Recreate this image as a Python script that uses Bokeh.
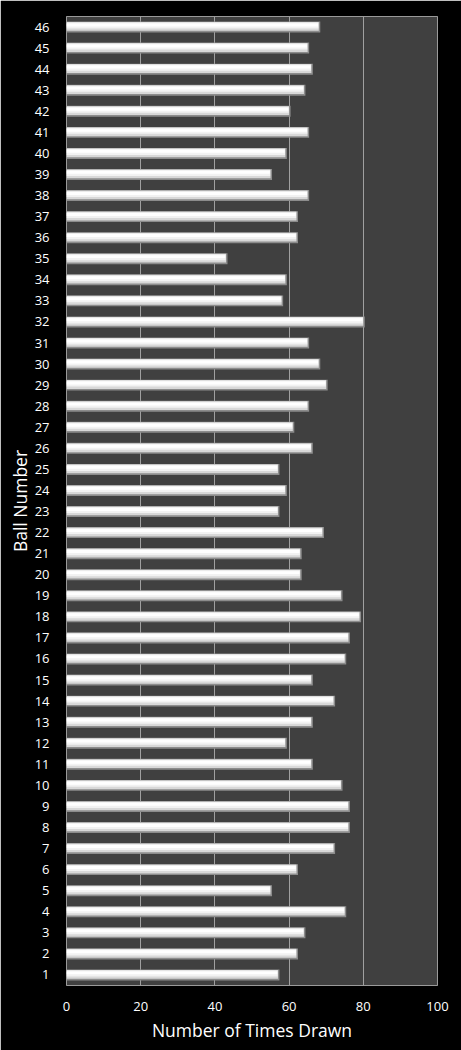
import numpy as np
from bokeh.plotting import figure
from bokeh.models import Range1d, FixedTicker
from bokeh.embed import file_html
from bokeh.resources import INLINE

# Data
balls = list(range(1, 47))
times_drawn = [57, 62, 64, 75, 55, 62, 72, 76, 76, 74,
               66, 59, 66, 72, 66, 75, 76, 79, 74, 63,
               63, 69, 57, 59, 57, 66, 61, 65, 70, 68,
               65, 80, 58, 59, 43, 62, 62, 65, 55, 59,
               65, 60, 64, 66, 65, 68]
x_ticks = [0, 20, 40, 60, 80, 100]
x_title = "Number of Times Drawn"
y_title = "Ball Number"

FONT = "Open Sans"

p = figure(width=461, height=1050, output_backend="svg", toolbar_location=None,
           x_range=Range1d(0, 100), y_range=Range1d(0.5, 46.5),
           min_border_left=66, min_border_right=24, min_border_top=16, min_border_bottom=65)

p.background_fill_color = "#404040"
p.border_fill_color = "#000000"
p.outline_line_color = "#9a9a9a"
p.outline_line_width = 1

y = np.array(balls, dtype=float)
v = np.array(times_drawn, dtype=float)

# bar layers (edge, body, highlight)
p.hbar(y=y, left=0, right=v + 0.4, height=0.52, fill_color="#8c8c8c", line_color=None)
p.hbar(y=y + 0.03, left=0, right=v, height=0.42, fill_color="#d8d8d8", line_color=None)
p.hbar(y=y + 0.07, left=0, right=v - 0.1, height=0.28, fill_color="#f2f2f2", line_color=None)
p.hbar(y=y + 0.1, left=0, right=v - 0.2, height=0.14, fill_color="#ffffff", line_color=None)

# grid
p.ygrid.grid_line_color = None
p.xgrid.grid_line_color = "#a0a0a0"
p.xgrid.grid_line_width = 1
p.xaxis.ticker = FixedTicker(ticks=x_ticks)
p.yaxis.ticker = FixedTicker(ticks=balls)

for ax in (p.xaxis, p.yaxis):
    ax.axis_line_color = None
    ax.major_tick_line_color = None
    ax.minor_tick_line_color = None
    ax.major_label_text_color = "#ffffff"
    ax.major_label_text_font = FONT
    ax.major_label_text_font_size = "13px"
    ax.axis_label_text_color = "#ffffff"
    ax.axis_label_text_font = FONT
    ax.axis_label_text_font_size = "17.5px"
    ax.axis_label_text_font_style = "normal"

p.xaxis.axis_label = x_title
p.yaxis.axis_label = y_title
p.xaxis.major_label_standoff = 10
p.xaxis.axis_label_standoff = 4
p.yaxis.major_label_standoff = 11
p.yaxis.axis_label_standoff = 0

open("out.html", "w").write(file_html(p, INLINE))
